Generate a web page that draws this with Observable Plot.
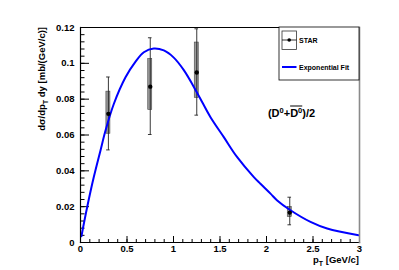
<!DOCTYPE html>
<html><head><meta charset="utf-8">
<script src="https://cdn.jsdelivr.net/npm/d3@7"></script>
<script src="https://cdn.jsdelivr.net/npm/@observablehq/plot@0.6"></script>
<style>
body{margin:0;background:#fff}
svg{font-family:"Liberation Sans",Arial,Helvetica,sans-serif;}
</style>
</head><body><div id="chart"></div>
<script>
// STAR (D0 + D0bar)/2 points
const pt       = [0.3,    0.75,  1.25,   2.25];
const yieldVal = [0.0718, 0.087, 0.0949, 0.0167];
const statLow  = [0.0514, 0.060, 0.0708, 0.0096];
const statHigh = [0.0921, 0.114, 0.119,  0.025];
const sysLow   = [0.0607, 0.074, 0.0807, 0.0142];
const sysHigh  = [0.0842, 0.1024,0.1116, 0.0198];

// Exponential fit curve
const fitX = [0.01, 0.072, 0.143, 0.215, 0.269, 0.358, 0.484, 0.59, 0.681, 0.788, 0.896, 1.003, 1.111, 1.255, 1.398, 1.541, 1.685, 1.864, 1.935, 2.043, 2.115, 2.258, 2.473, 2.652, 2.99];
const fitY = [0.0035, 0.0198, 0.0365, 0.0514, 0.0625, 0.0773, 0.0922, 0.1008, 0.1062, 0.1083, 0.1072, 0.1032, 0.0962, 0.0835, 0.0699, 0.0588, 0.0476, 0.0365, 0.0328, 0.0273, 0.0235, 0.018, 0.0115, 0.0078, 0.0041];

const xTicks = [0, 0.5, 1, 1.5, 2, 2.5, 3];
const xTickLabels = ["0", "0.5", "1", "1.5", "2", "2.5", "3"];
const yTicks = [0, 0.02, 0.04, 0.06, 0.08, 0.1, 0.12];
const yTickLabels = ["0", "0.02", "0.04", "0.06", "0.08", "0.1", "0.12"];
const xMinor = d3.range(0, 31).map(i => i / 10);
const yMinor = d3.range(0, 31).map(i => i * 0.004);

const W = 399, H = 270;
const mL = 80, mR = 40, mT = 27, mB = 28;
const fW = W - mL - mR, fH = H - mT - mB;

const points = pt.map((x, i) => ({x, y: yieldVal[i], sl: statLow[i], sh: statHigh[i], yl: sysLow[i], yh: sysHigh[i]}));
const fit = fitX.map((x, i) => ({x, y: fitY[i]}));

const chart = Plot.plot({
  width: W, height: H,
  marginLeft: mL, marginRight: mR, marginTop: mT, marginBottom: mB,
  x: {type: "linear", domain: [0, 3]},
  y: {type: "linear", domain: [0, 0.12]},
  style: {fontFamily: '"Liberation Sans",Arial,sans-serif', background: "#fff"},
  marks: [
    // inside ticks
    Plot.tickX(xMinor, {x: d => d, insetTop: fH - 3, stroke: "#000", strokeWidth: 1}),
    Plot.tickX(xTicks, {x: d => d, insetTop: fH - 6, stroke: "#000", strokeWidth: 1}),
    Plot.tickY(yMinor, {y: d => d, insetRight: fW - 4.5, stroke: "#000", strokeWidth: 1}),
    Plot.tickY(yTicks, {y: d => d, insetRight: fW - 9, stroke: "#000", strokeWidth: 1}),
    // tick labels
    Plot.axisX({ticks: xTicks, tickSize: 0, tickPadding: 3, tickFormat: (d, i) => xTickLabels[i], fontSize: 9.5, fontWeight: "bold", label: null}),
    Plot.axisY({ticks: yTicks, tickSize: 0, tickPadding: 6, tickFormat: (d, i) => yTickLabels[i], fontSize: 9.5, fontWeight: "bold", label: null}),
    // systematic boxes
    Plot.rectY(points, {x1: d => d.x, x2: d => d.x, y1: "yl", y2: "yh", insetLeft: -2, insetRight: -2, fill: "#9a9a9a", stroke: "#444", strokeWidth: 0.6}),
    // stat error bars
    Plot.ruleX(points, {x: "x", y1: "sl", y2: "sh", stroke: "#222", strokeWidth: 0.9}),
    // fit curve
    Plot.line(fit, {x: "x", y: "y", stroke: "#0000ff", strokeWidth: 2, curve: "catmull-rom"}),
    Plot.dot(points, {x: "x", y: "y", r: 2.2, fill: "#000", stroke: "none"}),
    // frame
    Plot.frame({anchor: "left", stroke: "#000", strokeWidth: 1.2}),
    Plot.frame({anchor: "bottom", stroke: "#000", strokeWidth: 1.2}),
    Plot.frame({anchor: "top", stroke: "#000", strokeWidth: 1}),
    Plot.frame({anchor: "right", stroke: "#8a8a8a", strokeWidth: 1.6})
  ]
});
document.getElementById("chart").appendChild(chart);

const sx = chart.scale("x"), sy = chart.scale("y");
const svg = d3.select(chart);
// error bar caps, placed through the plot's scales
const caps = svg.append("g").attr("stroke", "#222").attr("stroke-width", 0.9);
points.forEach(p => {
  [p.sl, p.sh].forEach(v => {
    caps.append("line")
      .attr("x1", sx.apply(p.x) - 1.8).attr("x2", sx.apply(p.x) + 1.8)
      .attr("y1", sy.apply(v)).attr("y2", sy.apply(v));
  });
});

// y axis title
const yl = svg.append("text")
  .attr("transform", `translate(45,${mT}) rotate(-90)`)
  .attr("text-anchor", "end")
  .attr("font-size", 9.5).attr("font-weight", "bold").attr("fill", "#000");
yl.append("tspan").text("d\u03c3/dp");
yl.append("tspan").attr("font-size", 7).attr("dy", 2.5).text("T");
yl.append("tspan").attr("dy", -2.5).text(" dy [mb/(GeV/c)]");

// x axis title
const xl = svg.append("text")
  .attr("x", W - mR).attr("y", 263)
  .attr("text-anchor", "end")
  .attr("font-size", 9.5).attr("font-weight", "bold").attr("fill", "#000");
xl.append("tspan").text("p");
xl.append("tspan").attr("font-size", 7).attr("dy", 2.5).text("T");
xl.append("tspan").attr("dy", -2.5).text(" [GeV/c]");

// label (D0 + D0bar)/2
const lab = svg.append("text")
  .attr("x", 291.5).attr("y", 117)
  .attr("text-anchor", "middle")
  .attr("font-size", 11).attr("font-weight", "bold").attr("fill", "#000");
lab.append("tspan").text("(D");
lab.append("tspan").attr("font-size", 7.5).attr("dy", -4.5).text("0");
lab.append("tspan").attr("dy", 4.5).text("+");
lab.append("tspan").text("D");
lab.append("tspan").attr("font-size", 7.5).attr("dy", -4.5).text("0");
lab.append("tspan").attr("dy", 4.5).text(")/2");
{
  const t = lab.node();
  const n1 = "(D0+".length;
  const a = t.getStartPositionOfChar(n1);
  const b = t.getEndPositionOfChar(n1 + 1);
  svg.append("line").attr("x1", a.x).attr("x2", b.x)
    .attr("y1", 117 - 11).attr("y2", 117 - 11)
    .attr("stroke", "#000").attr("stroke-width", 1);
}

// legend box
const lg = svg.append("g").attr("text-anchor", "start");
const lx0 = 279, ly0 = mT, lx1 = W - mR, ly1 = 80;
lg.append("rect").attr("x", lx0).attr("y", ly0).attr("width", lx1 - lx0).attr("height", ly1 - ly0)
  .attr("fill", "#fff").attr("stroke", "#000").attr("stroke-width", 0.8);
lg.append("rect").attr("x", 282).attr("y", 31).attr("width", 14.5).attr("height", 18.5)
  .attr("fill", "none").attr("stroke", "#333").attr("stroke-width", 0.8);
lg.append("line").attr("x1", 282).attr("x2", 296.5).attr("y1", 40).attr("y2", 40).attr("stroke", "#000").attr("stroke-width", 0.8);
lg.append("circle").attr("cx", 289.2).attr("cy", 40).attr("r", 1.8).attr("fill", "#000");
lg.append("text").attr("x", 299).attr("y", 42.5).attr("font-size", 7).attr("font-weight", "bold").text("STAR");
lg.append("line").attr("x1", 282).attr("x2", 296.5).attr("y1", 67).attr("y2", 67).attr("stroke", "#0000ff").attr("stroke-width", 2);
lg.append("text").attr("x", 299).attr("y", 69.5).attr("font-size", 7).attr("font-weight", "bold").text("Exponential Fit");
</script>
</body></html>
